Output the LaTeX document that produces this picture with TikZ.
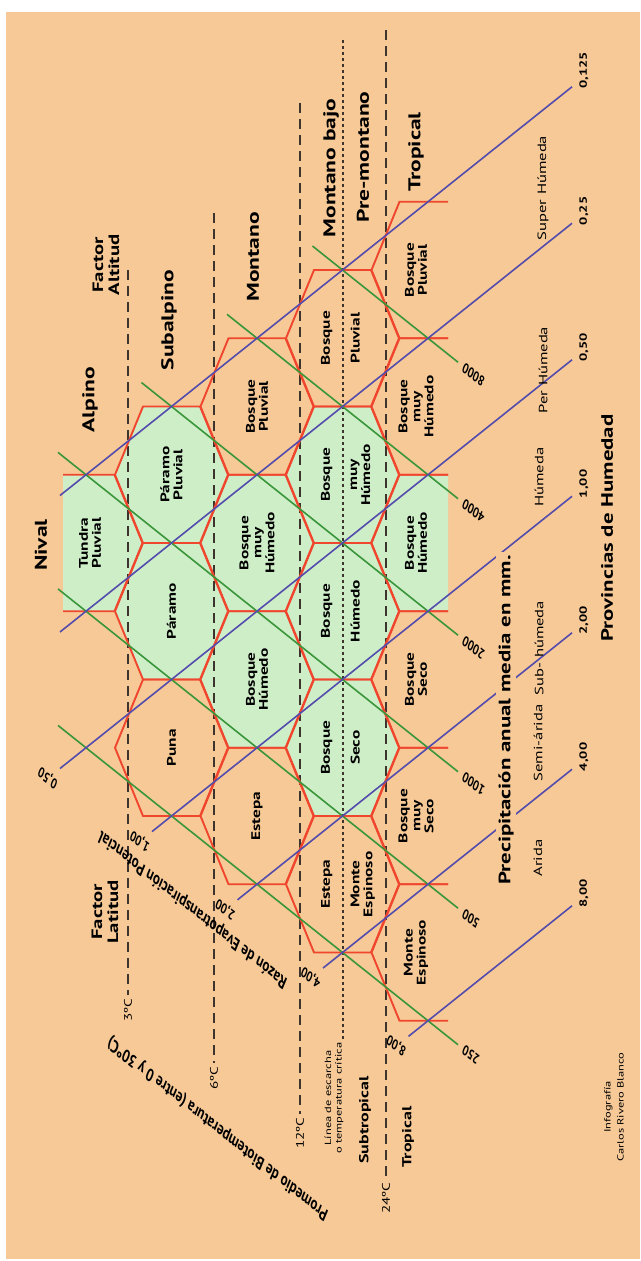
\documentclass[tikz,border=0pt]{standalone}
\usepackage{fontspec}
\setmainfont{PT Sans}
\usetikzlibrary{calc}
\definecolor{fondo}{RGB}{246,201,151}
\definecolor{verdehex}{RGB}{206,238,200}
\definecolor{rojohex}{RGB}{240,70,46}
\definecolor{verdelinea}{RGB}{58,150,58}
\definecolor{moradolinea}{RGB}{84,76,172}
\definecolor{gris}{RGB}{60,52,45}
\begin{document}
\begin{tikzpicture}[x=1pt, y=-1pt,
  estira/.style={yscale=1.3826},
  vert/.style={estira, rotate=90, inner sep=0pt, align=center},
  diag/.style={estira, rotate=150, inner sep=0pt, align=center},
  cabeza/.style={vert, font=\bfseries\fontsize{17}{18}\selectfont},
  zona/.style={vert, font=\bfseries\fontsize{12.5}{13}\selectfont},
  prov/.style={vert, font=\fontsize{12}{13}\selectfont},
  num/.style={font=\bfseries\fontsize{10.5}{11}\selectfont},
  guion/.style={draw=gris, line width=1.1pt, dash pattern=on 10pt off 6pt},
  puntos/.style={draw=gris, line width=1.1pt, dash pattern=on 3pt off 3pt},
  borde/.style={draw=rojohex, line width=1.9pt, line join=miter},
  precip/.style={draw=verdelinea, line width=1.6pt},
  razon/.style={draw=moradolinea, line width=1.6pt}]
  \useasboundingbox (0,0) rectangle (640,1261);
  \fill[white] (0,0) rectangle (640,1261);
  \fill[fondo] (6,12) rectangle (640,1259);

  \begin{scope}
    \clip (63,0) rectangle (448,1261);
    \foreach \k/\m in {0/0, 1/-1, 1/1, 2/0, 2/2, 3/-1, 3/1, 3/3, 4/0} {
      \pgfmathsetmacro\cx{86+85.5*\k}
      \pgfmathsetmacro\cy{543+68.25*\m}
      \fill[verdehex] (\cx-56.5,\cy) -- (\cx-28.5,\cy-68.25) -- (\cx+28.5,\cy-68.25) -- (\cx+56.5,\cy) -- (\cx+28.5,\cy+68.25) -- (\cx-28.5,\cy+68.25) -- cycle;
    }
  \end{scope}

  \foreach \x/\ytop/\lab/\yl [count=\n] in {128/270/3ºC/1010, 214/213/6ºC/1078, 300/103/12ºC/1133, 386/30/24ºC/1198} {
    \coordinate (tope\n) at (\x,\ytop);
    \node[vert, font=\fontsize{11}{12}\selectfont] (temp\n) at (\x,\yl) {\lab};
    \draw[guion, shorten >=3pt] (tope\n) -- (temp\n.east);
  }
  \coordinate (tope5) at (343,40);
  \node[vert, font=\fontsize{9}{10.5}\selectfont] (escarcha) at (334,1098) {Línea de escarcha\\o temperatura crítica};
  \draw[puntos, shorten >=3pt] (tope5) -- (tope5 |- escarcha.east);

  \begin{scope}
    \clip (63,0) rectangle (448,1261);
    \foreach \k/\m in {0/0, 1/-1, 1/1, 1/3, 2/-2, 2/0, 2/2, 2/4, 3/-3, 3/-1, 3/1, 3/3, 3/5, 4/-4, 4/-2, 4/0, 4/2, 4/4, 4/6} {
      \pgfmathsetmacro\cx{86+85.5*\k}
      \pgfmathsetmacro\cy{543+68.25*\m}
      \draw[borde] (\cx-56.5,\cy) -- (\cx-28.5,\cy-68.25) -- (\cx+28.5,\cy-68.25) -- (\cx+56.5,\cy) -- (\cx+28.5,\cy+68.25) -- (\cx-28.5,\cy+68.25) -- cycle;
    }
  \end{scope}

  \foreach \c/\xi/\lab [count=\n] in {-7/312.5/8000, -5/227/4000, -3/141.5/2000, -1/58/1000, 1/58/500, 3/58/250} {
    \coordinate (pa\n) at (\xi,{543+68.25*(\c+(\xi-86)/85.5)});
    \coordinate (pb\n) at (458,{543+68.25*(\c+(458-86)/85.5)});
    \draw[precip] (pa\n) -- (pb\n);
    \node[diag, num, anchor=east] (mm\n) at ($(pb\n)+(5,4)$) {\lab};
  }

  \foreach \c/\xi/\lab [count=\n] in {-1/60/{0,125}, 1/60/{0,25}, 3/60/{0,50}, 5/152/{1,00}, 7/237.5/{2,00}, 9/323/{4,00}, 11/408.5/{8,00}} {
    \coordinate (ra\n) at (\xi,{543+68.25*(\c-(\xi-86)/85.5)});
    \coordinate (rb\n) at (572,{543+68.25*(\c-(572-86)/85.5)});
    \draw[razon] (ra\n) -- (rb\n);
    \node[vert, num, anchor=west] (rd\n) at ($(rb\n)+(12,2)$) {\lab};
    \ifnum\c>1 \node[diag, num] (ri\n) at ($(ra\n)+(-12,9)$) {\lab};\fi
  }

  \foreach \k/\m/\dx/\txt [count=\n] in {0/0/4/{Tundra\\Pluvial}, 1/-1/0/{Páramo\\Pluvial}, 1/1/0/Páramo, 1/3/0/Puna,
      2/-2/0/{Bosque\\Pluvial}, 2/0/0/{Bosque\\muy\\Húmedo}, 2/2/0/{Bosque\\Húmedo}, 2/4/0/Estepa,
      4/-4/-12/{Bosque\\Pluvial}, 4/-2/-12/{Bosque\\muy\\Húmedo}, 4/0/-12/{Bosque\\Húmedo},
      4/2/-12/{Bosque\\Seco}, 4/4/-12/{Bosque\\muy\\Seco}, 4/6/-12/{Monte\\Espinoso}} {
    \node[zona] (zona\n) at ({86+85.5*\k+\dx},{543+68.25*\m}) {\txt};
  }
  \foreach \m/\izq/\der [count=\n] in {-3/Bosque/Pluvial, -1/Bosque/{muy\\Húmedo}, 1/Bosque/Húmedo, 3/Bosque/Seco, 5/Estepa/{Monte\\Espinoso}} {
    \node[zona, anchor=south] (bajo\n) at (332.5,{543+68.25*\m}) {\izq};
    \node[zona, anchor=north] (pre\n) at (350.5,{543+68.25*\m}) {\der};
  }

  \node[cabeza] (nival) at (41,545) {Nival};
  \node[cabeza] (alpino) at (90,400) {Alpino};
  \node[vert, font=\bfseries\fontsize{15}{16}\selectfont] (faltitud) at (106,265) {Factor\\Altitud};
  \node[cabeza] (subalpino) at (169,320) {Subalpino};
  \node[cabeza] (montano) at (253,257) {Montano};
  \node[cabeza] (mbajo) at (331,168) {Montano bajo};
  \node[cabeza] (premontano) at (363,157) {Pre-montano};
  \node[cabeza] (tropalt) at (416,152) {Tropical};
  \node[vert, font=\bfseries\fontsize{15}{16}\selectfont] (flatitud) at (105,912) {Factor\\Latitud};
  \node[vert, font=\bfseries\fontsize{13}{14}\selectfont] (subtrop) at (365,1120) {Subtropical};
  \node[vert, font=\bfseries\fontsize{13}{14}\selectfont] (troplat) at (408,1137) {Tropical};

  \node[diag, font=\bfseries\fontsize{13}{14}\selectfont] (razontxt) at (193,909) {Razón de Evapotranspiración Potencial};
  \node[diag, font=\bfseries\fontsize{13}{14}\selectfont] (biotemp) at (218,1128) {Promedio de Biotemperatura (entre 0 y 30ºC)};

  \node[prov] (superh) at (543,188) {Super Húmeda};
  \node[prov] (perh) at (543,370) {Per Húmeda};
  \node[prov] (humeda) at (539,477) {Húmeda};
  \node[prov] (subh) at (539,648) {Sub- húmeda};
  \node[prov] (semi) at (538,743) {Semi-árida};
  \node[prov] (arida) at (538,858) {Arida};
  \node[vert, font=\bfseries\fontsize{16.5}{18}\selectfont, fill=fondo, inner sep=2pt] (precipit) at (506,720) {Precipitación anual media en mm.};
  \node[vert, font=\bfseries\fontsize{16.5}{18}\selectfont] (provincias) at (607,528) {Provincias de Humedad};
  \node[vert, font=\fontsize{9}{13}\selectfont] (credito) at (614,1107) {Infografía\\Carlos Rivero Blanco};
\end{tikzpicture}
\end{document}
